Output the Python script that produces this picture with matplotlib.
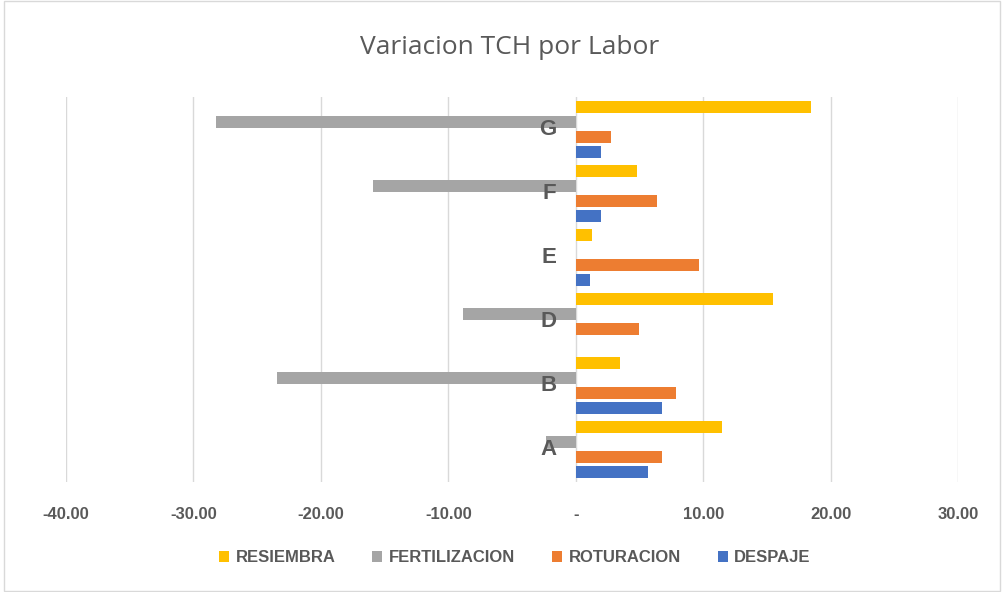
import matplotlib.pyplot as plt
import numpy as np
from matplotlib.patches import Rectangle

# Data
categories = ['A', 'B', 'D', 'E', 'F', 'G']
resiembra = [11.50, 3.45, 15.45, 1.25, 4.80, 18.50]
fertilizacion = [-2.35, -23.45, -8.86, 0.0, -15.90, -28.20]
roturacion = [6.80, 7.90, 5.00, 9.70, 6.40, 2.75]
despaje = [5.65, 6.80, 0.0, 1.10, 1.96, 1.96]

series = [
    ('RESIEMBRA', resiembra, '#ffc000'),
    ('FERTILIZACION', fertilizacion, '#a5a5a5'),
    ('ROTURACION', roturacion, '#ed7d31'),
    ('DESPAJE', despaje, '#4472c4'),
]

text_grey = '#595959'
narrow = ['Liberation Sans Narrow', 'Liberation Sans', 'DejaVu Sans']

fig = plt.figure(figsize=(10.02, 5.92), dpi=100)
ax = fig.add_axes([66/1002, 1 - 482/592, (958 - 66)/1002, (482 - 97)/592])

y = np.arange(len(categories))
step = 15 / 64
height = 12 / 64
offsets = [1.5, 0.5, -0.5, -1.5]
for (name, vals, color), off in zip(series, offsets):
    ax.barh(y + off * step, vals, height=height, color=color, label=name, zorder=3)

ax.set_xlim(-40, 30)
ax.set_ylim(-0.5, len(categories) - 0.5)
ax.set_xticks(np.arange(-40, 31, 10))
ax.set_xticklabels(['-' if v == 0 else '%.2f' % v for v in np.arange(-40, 31, 10)],
                   fontsize=12, fontweight='bold', color=text_grey, family=narrow)
ax.grid(axis='x', color='#d9d9d9', linewidth=1, zorder=0)
for s in ax.spines.values():
    s.set_visible(False)
ax.tick_params(axis='x', length=0, pad=18)

# Category labels sit next to the zero line
ax.set_yticks([])
for yi, cat in zip(y, categories):
    ax.text(-1.5, yi, cat, ha='right', va='center', fontsize=16, fontweight='bold',
            color=text_grey, family=narrow, zorder=4)

fig.text(0.509, 1 - 48/592, 'Variacion TCH por Labor', ha='center', va='center',
         fontsize=19, color=text_grey, family=['Open Sans', 'DejaVu Sans'])

leg = fig.legend(loc='center', bbox_to_anchor=(0.514, 1 - 558/592), ncol=4, frameon=False,
                 handlelength=0.6, handleheight=0.6, handletextpad=0.4, columnspacing=2.2,
                 prop={'family': narrow, 'size': 12, 'weight': 'bold'})
for t in leg.get_texts():
    t.set_color(text_grey)

# Light border around the whole chart
fig.patches.append(Rectangle((0.004, 0.002), 0.994, 0.996, transform=fig.transFigure,
                             fill=False, edgecolor='#d9d9d9', linewidth=1))

fig.savefig('out.png', dpi=100)
